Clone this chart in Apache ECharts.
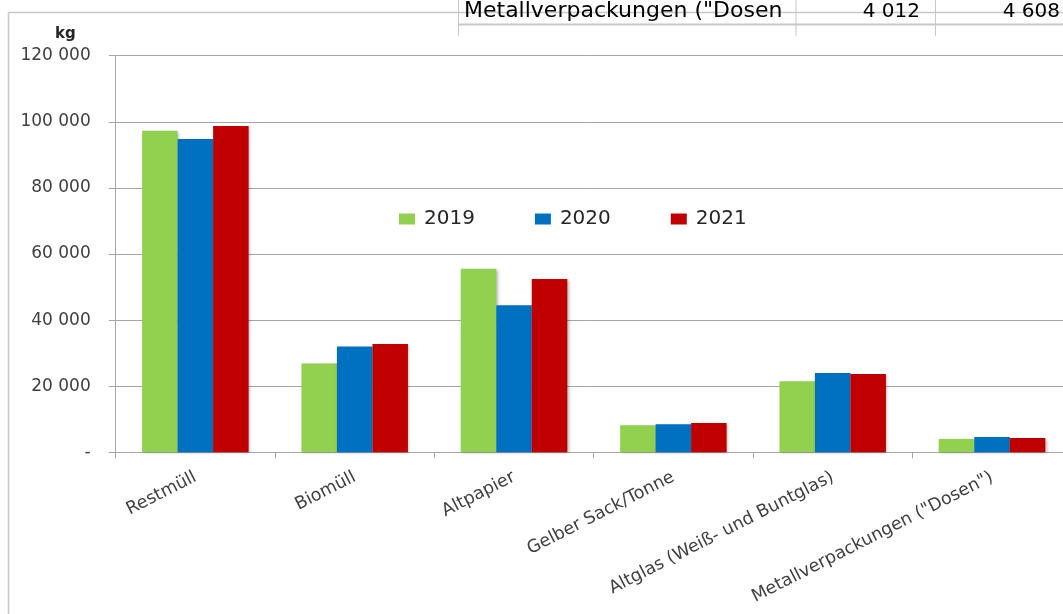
<!DOCTYPE html>
<html>
<head>
<meta charset="utf-8">
<script src="https://cdn.jsdelivr.net/npm/echarts@6/dist/echarts.min.js"></script>
<style>
html,body{margin:0;padding:0;background:#fff;}
#chart{width:1063px;height:614px;}
</style>
</head>
<body>
<div id="chart"></div>
<script>
// ---- data ----
const categories = ['Restmüll', 'Biomüll', 'Altpapier', 'Gelber Sack/Tonne', 'Altglas (Weiß- und Buntglas)', 'Metallverpackungen ("Dosen")'];
const seriesNames = ['2019', '2020', '2021'];
const values2019 = [97300, 26900, 55500, 8200, 21500, 4012];
const values2020 = [94800, 32000, 44500, 8500, 24000, 4608];
const values2021 = [98700, 32800, 52400, 8900, 23700, 4300];
const yTicks = [0, 20000, 40000, 60000, 80000, 100000, 120000];
const tableRowLabel = 'Metallverpackungen ("Dosen';
const tableRowValues = ['4 012', '4 608'];

const colors = ['#92D050', '#0070C0', '#C00000'];
const FONT = 'DejaVu Sans';

function fmt(v) {
  if (v === 0) return '-';
  return String(v).replace(/\B(?=(\d{3})+(?!\d))/g, ' ');
}

const chart = echarts.init(document.getElementById('chart'), null, {renderer: 'canvas'});

const allValues = [values2019, values2020, values2021];
const series = seriesNames.map((n, i) => ({
  name: n,
  type: 'bar',
  data: allValues[i],
  barWidth: 35.5,
  barGap: '0%',
  itemStyle: {
    color: colors[i],
    shadowColor: 'rgba(0,0,0,0.3)',
    shadowBlur: 3,
    shadowOffsetX: 1.5,
    shadowOffsetY: 1
  }
}));

const option = {
  animation: false,
  backgroundColor: '#ffffff',
  textStyle: {fontFamily: FONT},
  grid: {left: 115.7, top: 55.7, height: 396.6, width: 956, containLabel: false, outerBoundsMode: 'none'},
  legend: {
    data: seriesNames,
    left: 394,
    top: 204,
    itemWidth: 16,
    itemHeight: 11,
    itemGap: 60,
    icon: 'rect',
    textStyle: {fontFamily: FONT, fontSize: 20, color: '#262626', padding: [0, 0, 0, 4]}
  },
  xAxis: {
    type: 'category',
    data: categories,
    axisLine: {lineStyle: {color: '#a6a6a6', width: 1}},
    axisTick: {show: true, length: 6, lineStyle: {color: '#a6a6a6'}},
    axisLabel: {
      interval: 0,
      rotate: 27,
      margin: 24,
      fontFamily: FONT,
      fontSize: 17.5,
      color: '#404040'
    },
    splitLine: {show: false}
  },
  yAxis: {
    type: 'value',
    min: yTicks[0],
    max: yTicks[yTicks.length - 1],
    interval: yTicks[1] - yTicks[0],
    name: 'kg',
    nameLocation: 'end',
    nameGap: 14,
    nameTextStyle: {fontFamily: FONT, fontWeight: 'bold', fontSize: 15, color: '#262626', align: 'right', padding: [0, 40, 0, 0]},
    axisLine: {show: true, lineStyle: {color: '#a6a6a6', width: 1}},
    axisTick: {show: true, length: 7, lineStyle: {color: '#a6a6a6'}},
    axisLabel: {
      margin: 25,
      fontFamily: FONT,
      fontSize: 17,
      color: '#404040',
      formatter: fmt
    },
    splitLine: {show: true, lineStyle: {color: '#a6a6a6', width: 1}}
  },
  graphic: [
    // chart frame
    {type: 'line', shape: {x1: 8.5, y1: 12.5, x2: 1063, y2: 12.5}, style: {stroke: '#c8c8c8', lineWidth: 1.5}, z: 0},
    {type: 'line', shape: {x1: 8.5, y1: 12.5, x2: 8.5, y2: 614}, style: {stroke: '#c8c8c8', lineWidth: 1.5}, z: 0},
    // table fragment at top
    {type: 'line', shape: {x1: 458.5, y1: 24.5, x2: 1063, y2: 24.5}, style: {stroke: '#c8c8c8', lineWidth: 2}, z: 1},
    {type: 'line', shape: {x1: 458.5, y1: 0, x2: 458.5, y2: 36}, style: {stroke: '#c8c8c8', lineWidth: 1}, z: 1},
    {type: 'line', shape: {x1: 796, y1: 0, x2: 796, y2: 36}, style: {stroke: '#c8c8c8', lineWidth: 1}, z: 1},
    {type: 'line', shape: {x1: 935.5, y1: 0, x2: 935.5, y2: 36}, style: {stroke: '#c8c8c8', lineWidth: 1}, z: 1},
    {type: 'text', x: 464, y: 22, style: {text: tableRowLabel, font: '22px "DejaVu Sans"', fill: '#000', align: 'left', verticalAlign: 'bottom'}, z: 2},
    {type: 'text', x: 920, y: 22, style: {text: tableRowValues[0], font: '20px "DejaVu Sans"', fill: '#000', align: 'right', verticalAlign: 'bottom'}, z: 2},
    {type: 'text', x: 1060, y: 22, style: {text: tableRowValues[1], font: '20px "DejaVu Sans"', fill: '#000', align: 'right', verticalAlign: 'bottom'}, z: 2}
  ],
  series: series
};

chart.setOption(option);
</script>
</body>
</html>
